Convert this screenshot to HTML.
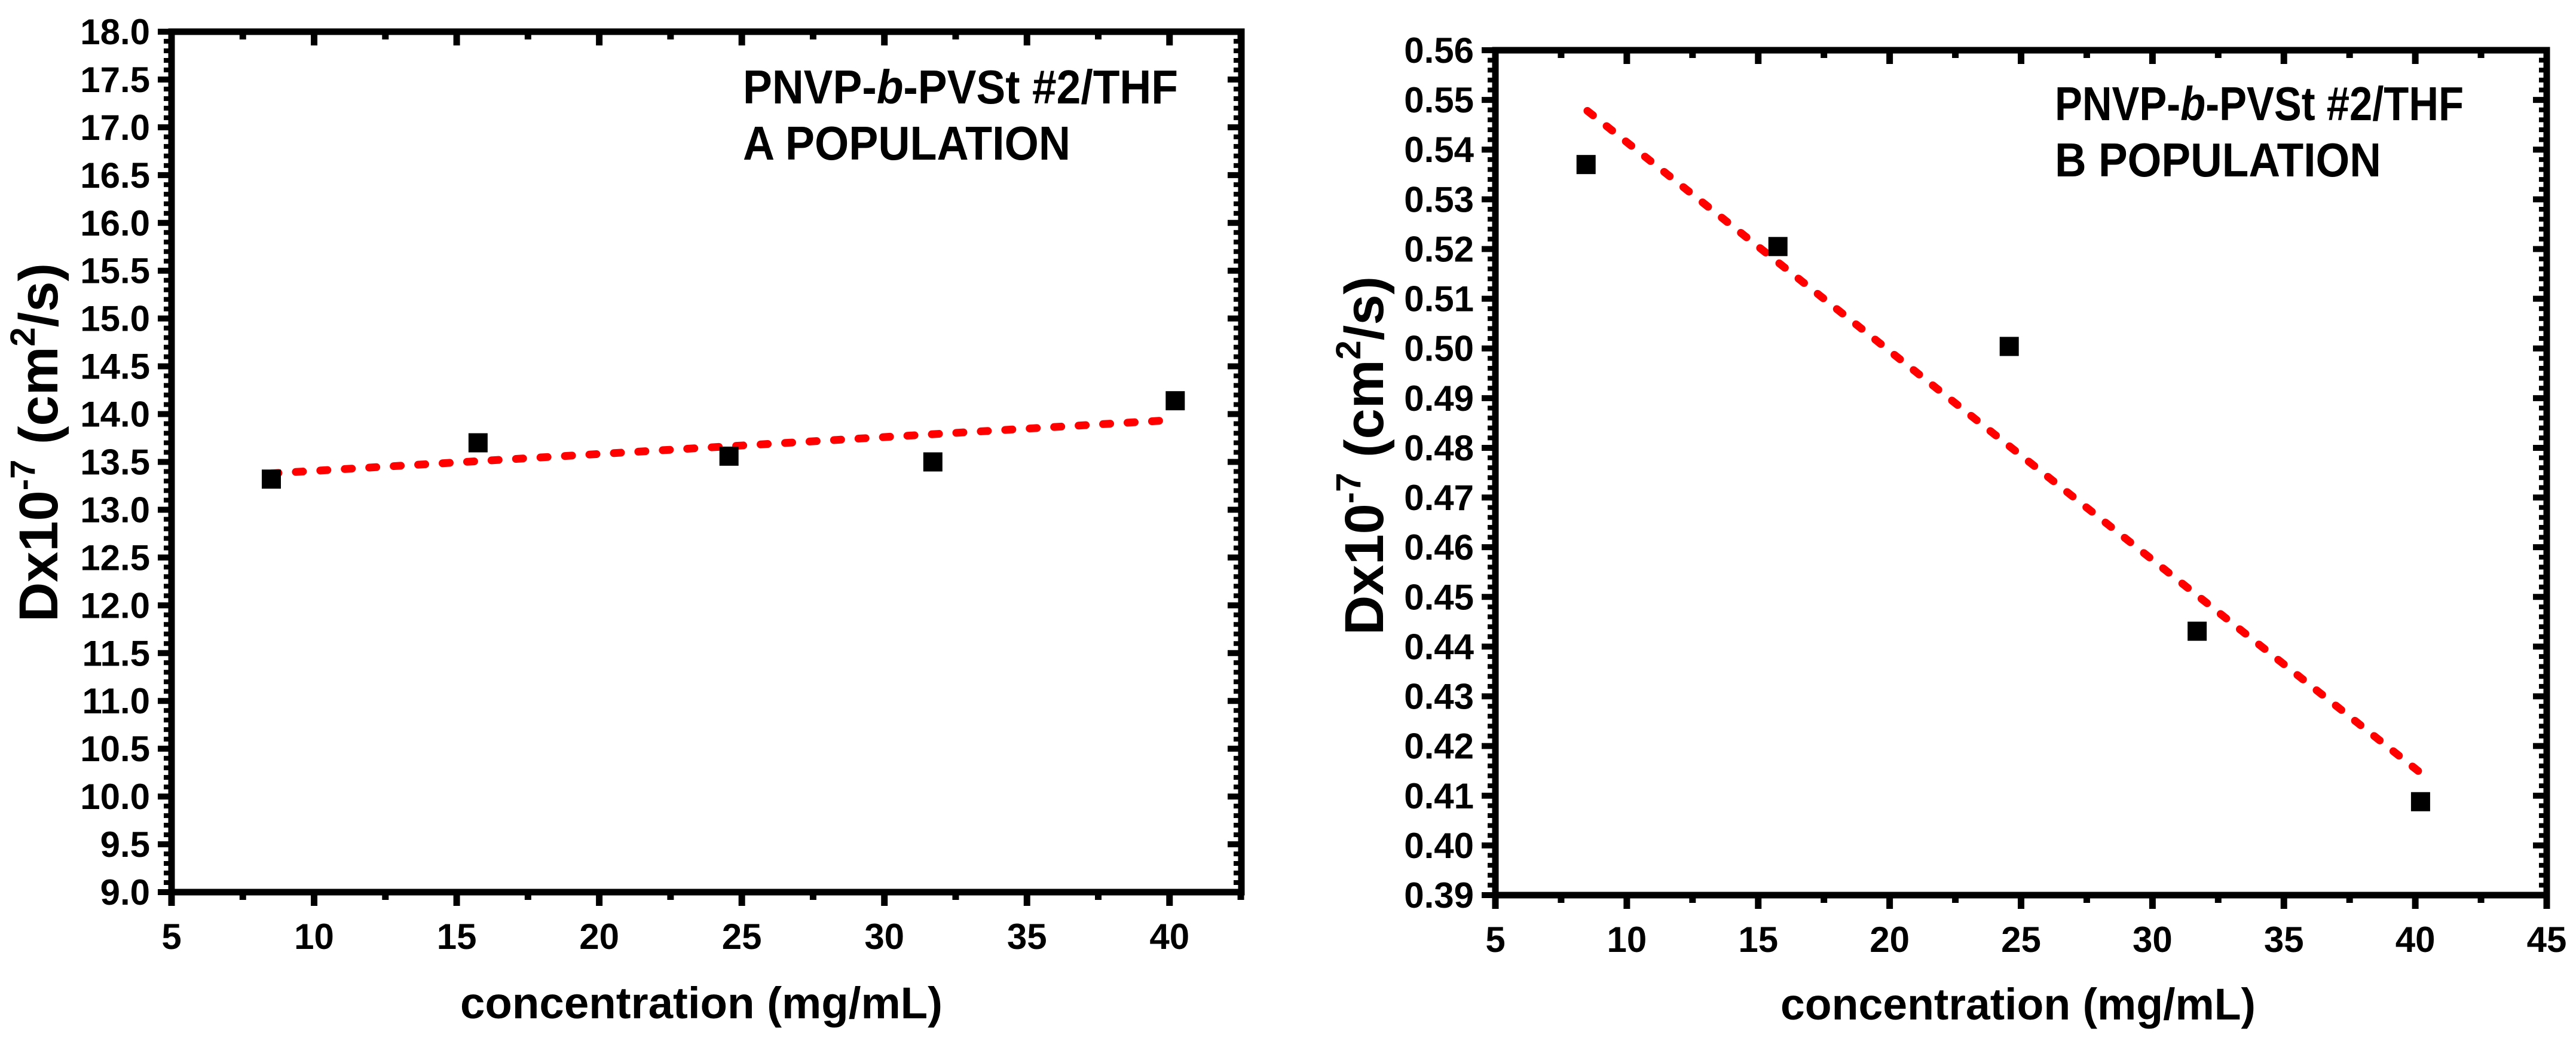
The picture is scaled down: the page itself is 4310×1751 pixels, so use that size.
<!DOCTYPE html>
<html><head><meta charset="utf-8">
<style>
html,body{margin:0;padding:0;background:#fff;}
svg{display:block;}
text{font-family:"Liberation Sans",sans-serif;font-weight:bold;fill:#000;}
</style></head>
<body>
<svg id="fig" width="4310" height="1751" viewBox="0 0 4310 1751" xmlns="http://www.w3.org/2000/svg"></svg>
<script>
// ---- Chart A data ----
const concA = [8.5, 15.75, 24.55, 31.7, 40.2];
const diffA = [13.32, 13.70, 13.56, 13.50, 14.14];
const fitXA = [8.5, 40.2];
const fitYA = [13.38, 13.94];
const yTicksA = [9.0,9.5,10.0,10.5,11.0,11.5,12.0,12.5,13.0,13.5,14.0,14.5,15.0,15.5,16.0,16.5,17.0,17.5,18.0];
const xTicksA = [5,10,15,20,25,30,35,40];
// ---- Chart B data ----
const concB = [8.45, 15.75, 24.55, 31.7, 40.2];
const diffB = [0.537, 0.5205, 0.5004, 0.4431, 0.4088];
const fitXB = [8.5, 40.2];
const fitYB = [0.5478, 0.4146];
const yTicksB = [0.39,0.40,0.41,0.42,0.43,0.44,0.45,0.46,0.47,0.48,0.49,0.50,0.51,0.52,0.53,0.54,0.55,0.56];
const xTicksB = [5,10,15,20,25,30,35,40,45];

const NS = "http://www.w3.org/2000/svg";
const svg = document.getElementById('fig');
function mk(tag, attrs, parent){
  const e = document.createElementNS(NS, tag);
  for (const k in attrs) e.setAttribute(k, attrs[k]);
  (parent||svg).appendChild(e);
  return e;
}

function drawChart(o){
  const g = mk('g', {});
  
  
  const sx = v => o.L + (v - o.xmin) / (o.xmax - o.xmin) * (o.R - o.L);
  const sy = v => o.B - (v - o.ymin) / (o.ymax - o.ymin) * (o.B - o.T);
  const fr = mk('rect', {x:o.L, y:o.T, width:o.R-o.L, height:o.B-o.T, fill:'none', stroke:'#000', 'stroke-width':11}, g);
  
  
  const yt = o.yTicks;
  const ystep = yt[1]-yt[0];
  for (let i=0;i<yt.length;i++){
    const y = sy(yt[i]);
    mk('line',{x1:o.L-23,x2:o.L,y1:y,y2:y,stroke:'#000','stroke-width':10},g);
    mk('line',{x1:o.R-23,x2:o.R,y1:y,y2:y,stroke:'#000','stroke-width':10},g);
    const t = mk('text',{x:o.L-36,y:y+21,'font-size':60,'text-anchor':'end'},g);
    t.textContent = yt[i].toFixed(o.yDec);
    
    
    if (i<yt.length-1){
      for (let k=1;k<5;k++){
        const ym = sy(yt[i]+ystep*k/5);
        mk('line',{x1:o.L-13,x2:o.L,y1:ym,y2:ym,stroke:'#000','stroke-width':8},g);
        mk('line',{x1:o.R-13,x2:o.R,y1:ym,y2:ym,stroke:'#000','stroke-width':8},g);
      }
    }
  }
  const xt = o.xTicks;
  for (let i=0;i<xt.length;i++){
    const x = sx(xt[i]);
    mk('line',{x1:x,x2:x,y1:o.B,y2:o.B+23,stroke:'#000','stroke-width':11},g);
    mk('line',{x1:x,x2:x,y1:o.T,y2:o.T+23,stroke:'#000','stroke-width':11},g);
    const t = mk('text',{x:x,y:o.B+95,'font-size':60,'text-anchor':'middle'},g);
    t.textContent = xt[i];
    
    
    const xm = xt[i]+2.5;
    if (xm < o.xmax){
      const xx = sx(xm);
      mk('line',{x1:xx,x2:xx,y1:o.B,y2:o.B+13,stroke:'#000','stroke-width':11},g);
      mk('line',{x1:xx,x2:xx,y1:o.T,y2:o.T+13,stroke:'#000','stroke-width':11},g);
    }
  }
  const fl = mk('line',{x1:sx(o.fitX[0]),y1:sy(o.fitY[0]),x2:sx(o.fitX[1]),y2:sy(o.fitY[1]),stroke:'#ff0000','stroke-width':13,'stroke-linecap':'round','stroke-dasharray':'12 29'},g);
  
  
  for (let i=0;i<o.xs.length;i++){
    const r = mk('rect',{x:sx(o.xs[i])-16,y:sy(o.ys[i])-16,width:32,height:32,fill:'#000'},g);
    
    
  }
  const a1 = mk('text',{x:o.annX,y:o.annY,'font-size':80,textLength:o.annW1,lengthAdjust:'spacingAndGlyphs'},g);
  a1.innerHTML = 'PNVP-<tspan font-style="italic">b</tspan>-PVSt #2/THF';
  
  
  const a2 = mk('text',{x:o.annX,y:o.annY+94,'font-size':80,textLength:o.annW2,lengthAdjust:'spacingAndGlyphs'},g);
  a2.textContent = o.pop;
  
  
  const xt1 = mk('text',{x:o.xtX,y:o.xtY,'font-size':74,textLength:o.xtW,lengthAdjust:'spacingAndGlyphs'},g);
  xt1.textContent = 'concentration (mg/mL)';
  
  
  const ytl = mk('text',{x:0,y:0,'font-size':92,'text-anchor':'middle',transform:'translate('+o.ytX+','+o.ytY+') rotate(-90)'},g);
  ytl.innerHTML = 'Dx10<tspan font-size="58" dy="-38">-7</tspan><tspan font-size="92" dy="38"> (cm</tspan><tspan font-size="58" dy="-38">2</tspan><tspan font-size="92" dy="38">/s)</tspan>';
  
  
}

drawChart({name:'chart-a-population', L:287,R:2077,T:53,B:1492,xmin:5,xmax:42.52,ymin:9,ymax:18,
  xs:concA, ys:diffA, fitX:fitXA, fitY:fitYA, yTicks:yTicksA, xTicks:xTicksA, yDec:1,
  annX:1243, annY:173, annW1:728, annW2:548, pop:'A POPULATION',
  xtX:770, xtY:1703, xtW:807, ytX:96, ytY:740});

drawChart({name:'chart-b-population', L:2502,R:4261,T:84,B:1497,xmin:5,xmax:45,ymin:0.39,ymax:0.56,
  xs:concB, ys:diffB, fitX:fitXB, fitY:fitYB, yTicks:yTicksB, xTicks:xTicksB, yDec:2,
  annX:3438, annY:201, annW1:684, annW2:546, pop:'B POPULATION',
  xtX:2979, xtY:1705, xtW:795, ytX:2314, ytY:762});
</script>
</body></html>
